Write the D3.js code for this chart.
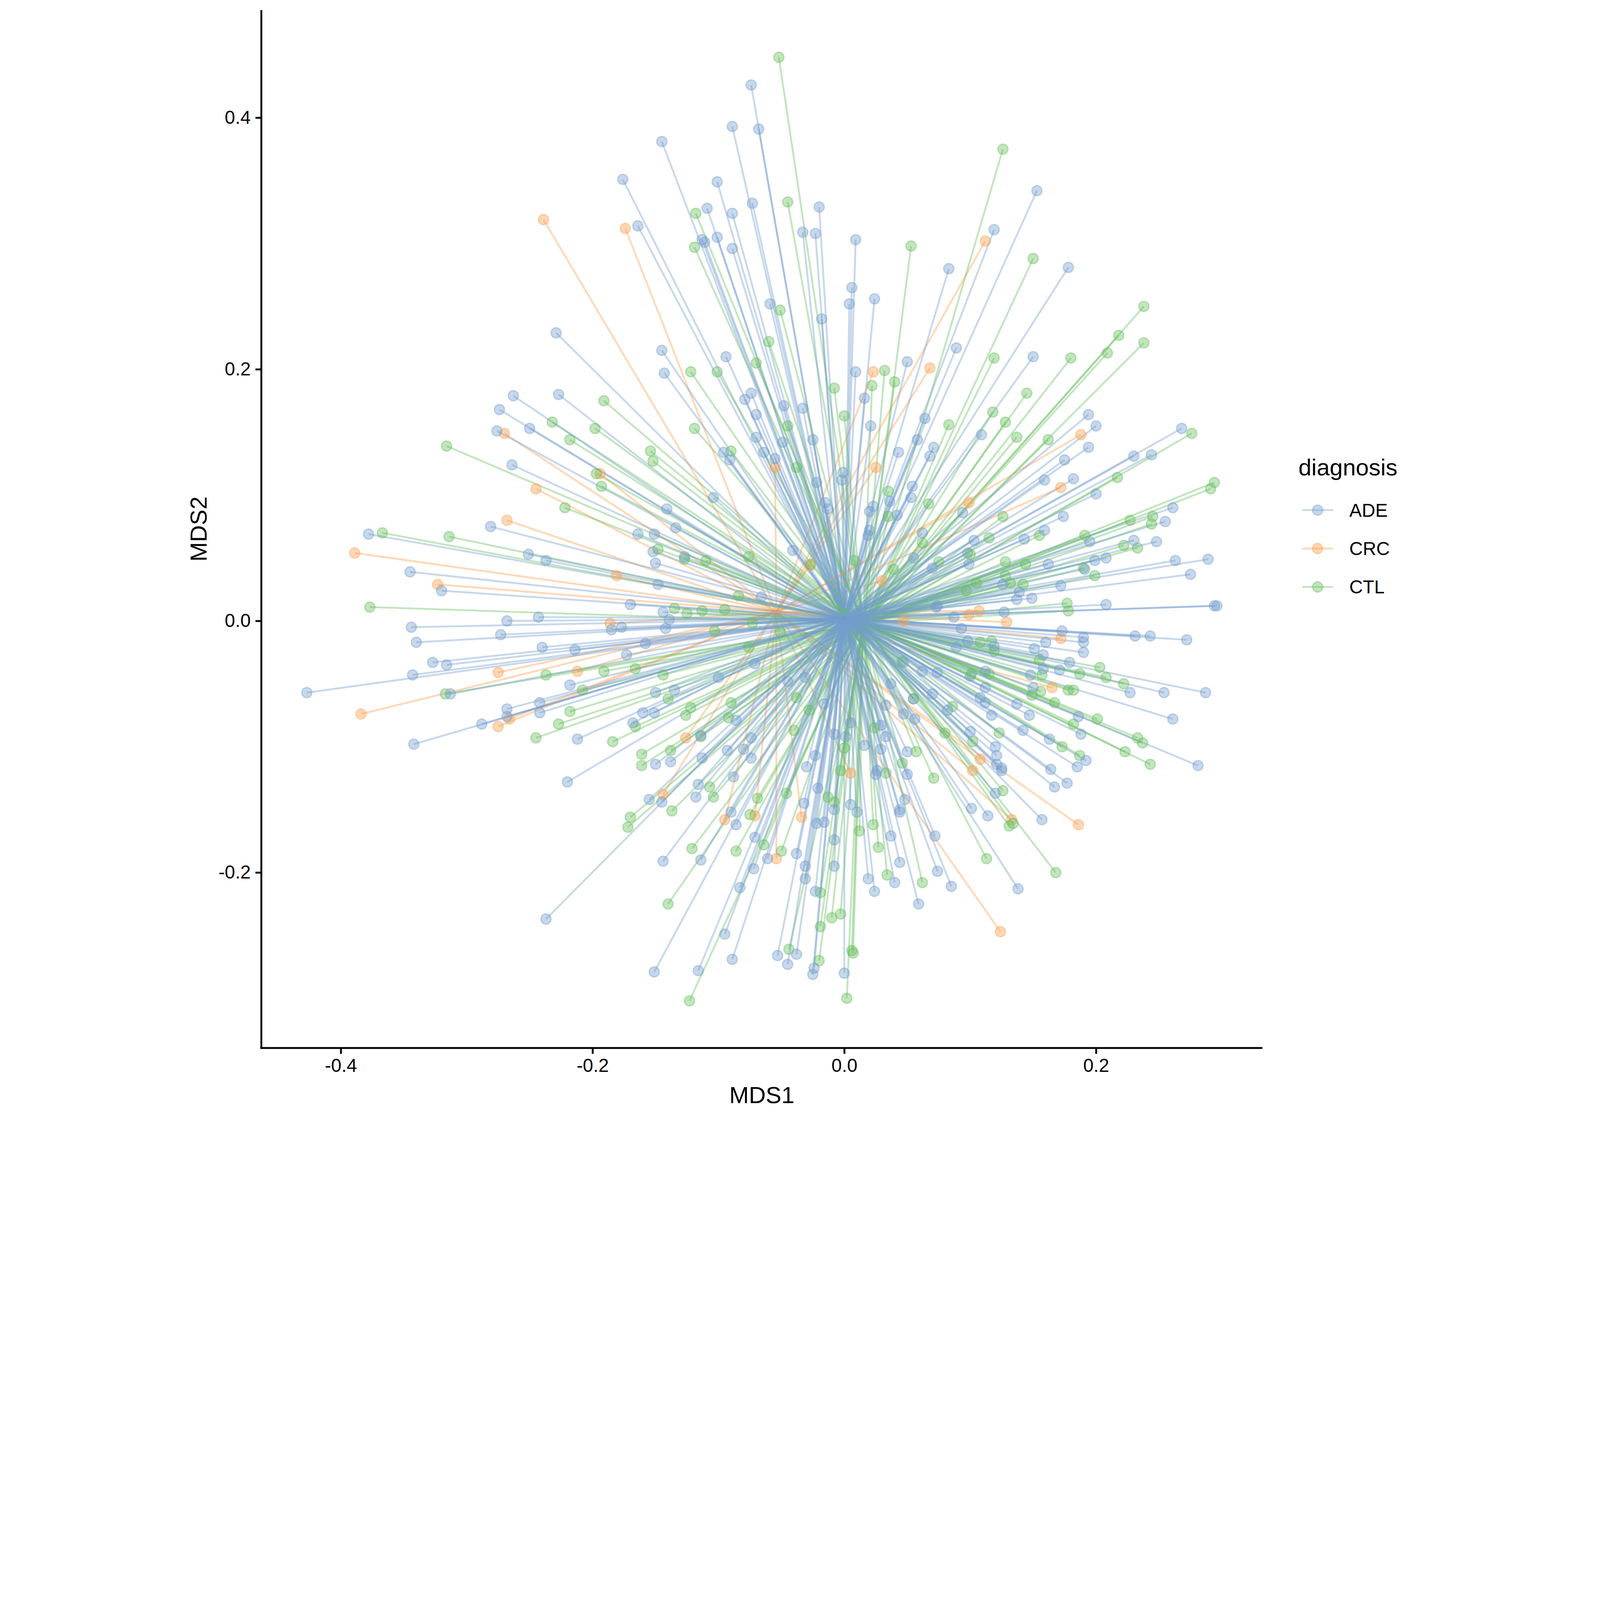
<!DOCTYPE html>
<html>
<head>
<meta charset="utf-8">
<script src="https://cdn.jsdelivr.net/npm/d3@7"></script>
<style>
  html, body { margin: 0; padding: 0; background: #fff; width: 100%; height: 100%; overflow: hidden; }
  svg { display: block; }
  text { font-family: "Liberation Sans", Arial, Helvetica, sans-serif; }
</style>
</head>
<body>
<svg id="chart" viewBox="0 0 6000 4200" preserveAspectRatio="xMidYMin meet"></svg>
<script>
// groups and their colours
const categories = ["ADE", "CRC", "CTL"];
const palette = ["#729ECE", "#FF9E4A", "#67BF5C"];

// group centroids (MDS1, MDS2)
const centroidADE = [0.000, 0.002];
const centroidCRC = [-0.054, 0.007];
const centroidCTL = [0.015, -0.002];

// sample coordinates (MDS1, MDS2)
const adePoints = [
  [-0.074,0.426],[-0.089,0.393],[-0.068,0.391],[-0.145,0.381],[-0.176,0.351],[-0.101,0.349],[-0.073,0.332],[-0.020,0.329],
  [-0.109,0.328],[-0.089,0.324],[-0.164,0.314],[-0.033,0.309],[-0.023,0.308],[0.009,0.303],[-0.101,0.305],[-0.113,0.303],
  [-0.111,0.301],[-0.089,0.296],[0.083,0.280],[0.006,0.265],[0.004,0.252],[0.024,0.256],[-0.059,0.252],[-0.018,0.240],
  [0.089,0.217],[-0.145,0.215],[-0.094,0.210],[0.050,0.206],[0.009,0.198],[-0.143,0.197],
  [0.153,0.342],[0.119,0.311],[0.178,0.281],[0.150,0.210],[-0.229,0.229],
  [-0.074,0.181],[-0.079,0.176],[0.016,0.177],[-0.048,0.171],[-0.033,0.169],[-0.070,0.164],[0.064,0.161],[0.021,0.155],
  [-0.070,0.146],[-0.025,0.144],[-0.049,0.142],[0.058,0.144],[0.071,0.138],[-0.096,0.134],[-0.064,0.134],[0.043,0.134],
  [0.068,0.131],[-0.091,0.128],[-0.055,0.129],[-0.001,0.118],[-0.002,0.112],[-0.022,0.110],[0.054,0.107],[0.036,0.095],
  [0.053,0.098],[-0.104,0.098],[-0.015,0.094],[-0.013,0.089],[0.023,0.091],[0.020,0.087],[0.042,0.084],[-0.141,0.089],
  [-0.134,0.074],[-0.164,0.069],[-0.151,0.069],[0.020,0.072],[0.019,0.068],[0.062,0.070],[-0.152,0.055],[-0.041,0.056],
  [-0.127,0.051],[-0.150,0.046],[0.055,0.050],[0.070,0.042],[-0.148,0.029],[-0.066,0.019],[-0.170,0.013],[-0.144,0.007],
  [-0.139,0.001],[-0.177,-0.005],[-0.185,-0.007],[-0.142,-0.006],[0.073,0.011],[-0.158,-0.018],[-0.173,-0.027],[-0.071,-0.034],
  [-0.100,-0.045],[0.047,-0.033],[0.062,-0.040],[0.100,-0.044],[-0.045,-0.048],[-0.031,-0.045],[0.037,-0.050],[-0.150,-0.057],
  [-0.135,-0.055],[0.055,-0.062],[0.070,-0.058],[0.033,-0.067],[-0.160,-0.073],[-0.151,-0.073],[-0.016,-0.066],[0.098,0.054],
  [-0.263,0.179],[-0.227,0.180],[-0.274,0.168],[-0.276,0.151],[-0.250,0.153],[-0.264,0.124],[-0.281,0.075],[-0.378,0.069],
  [-0.251,0.053],[-0.237,0.048],[-0.345,0.039],[-0.320,0.024],[-0.268,0.000],[-0.243,0.003],[-0.344,-0.005],[-0.273,-0.011],
  [-0.340,-0.017],[-0.240,-0.021],[-0.214,-0.023],[-0.327,-0.033],[-0.316,-0.035],[-0.343,-0.043],[-0.427,-0.057],[-0.313,-0.058],
  [-0.218,-0.051],[-0.268,-0.070],[-0.242,-0.065],[-0.242,-0.073],[-0.268,-0.076],[-0.342,-0.098],[-0.288,-0.082],[-0.237,-0.237],
  [-0.212,-0.094],[-0.168,-0.081],[-0.114,-0.091],[-0.086,-0.079],[-0.074,-0.093],[-0.093,-0.103],[-0.080,-0.102],[-0.150,-0.114],
  [-0.138,-0.112],[-0.113,-0.109],[-0.074,-0.109],[-0.220,-0.128],[-0.088,-0.124],[-0.030,-0.116],[-0.023,-0.107],[-0.008,-0.090],
  [0.001,-0.092],[0.016,-0.099],[0.005,-0.081],[0.025,-0.122],[0.026,-0.119],[0.029,-0.102],[0.029,-0.083],[0.033,-0.092],
  [0.050,-0.104],[0.050,-0.122],[0.047,-0.074],[0.056,-0.078],[0.100,-0.088],[0.048,-0.142],[0.044,-0.150],[0.044,-0.152],
  [0.005,-0.146],[0.010,-0.152],[-0.008,-0.150],[-0.021,-0.133],[-0.032,-0.145],[-0.022,-0.161],[-0.016,-0.160],[0.037,-0.171],
  [0.072,-0.171],[0.101,-0.149],[0.114,-0.155],[-0.008,-0.174],[0.044,-0.192],[0.074,-0.199],[0.085,-0.211],[0.040,-0.208],
  [0.019,-0.205],[0.024,-0.215],[0.059,-0.225],[-0.008,-0.195],[-0.038,-0.185],[-0.031,-0.195],[-0.031,-0.205],[-0.023,-0.215],
  [-0.061,-0.189],[-0.071,-0.172],[-0.090,-0.152],[-0.086,-0.162],[-0.114,-0.190],[-0.144,-0.191],[-0.072,-0.197],[-0.083,-0.212],
  [-0.116,-0.130],[-0.118,-0.140],[-0.155,-0.142],[-0.145,-0.144],[-0.095,-0.249],[-0.089,-0.269],[-0.151,-0.279],[-0.116,-0.278],
  [-0.053,-0.266],[-0.038,-0.265],[-0.045,-0.273],[-0.024,-0.276],[-0.025,-0.281],[0.000,-0.280],
  [0.109,0.148],[0.194,0.164],[0.200,0.155],[0.194,0.138],[0.175,0.128],[0.268,0.153],[0.230,0.131],[0.244,0.132],
  [0.159,0.112],[0.182,0.113],[0.200,0.101],[0.094,0.086],[0.174,0.083],[0.261,0.090],[0.255,0.079],[0.159,0.072],
  [0.143,0.065],[0.103,0.064],[0.195,0.063],[0.230,0.064],[0.248,0.063],[0.099,0.045],[0.162,0.045],[0.199,0.048],
  [0.208,0.050],[0.191,0.041],[0.263,0.048],[0.289,0.049],[0.275,0.037],[0.126,0.029],[0.172,0.028],[0.139,0.023],
  [0.137,0.017],[0.149,0.018],[0.208,0.013],[0.294,0.012],[0.296,0.012],[0.074,0.012],[0.127,0.007],[0.087,0.003],
  [0.093,-0.006],[0.173,-0.008],[0.190,-0.013],[0.190,-0.017],[0.231,-0.012],[0.243,-0.012],[0.272,-0.015],[0.160,-0.017],
  [0.098,-0.016],[0.119,-0.020],[0.089,-0.021],[0.151,-0.022],[0.158,-0.027],[0.190,-0.025],[0.179,-0.033],[0.158,-0.038],
  [0.171,-0.039],[0.148,-0.043],[0.227,-0.057],[0.254,-0.057],[0.287,-0.057],[0.150,-0.053],[0.137,-0.066],[0.112,-0.053],
  [0.112,-0.040],[0.074,-0.041],[0.108,-0.061],[0.112,-0.065],[0.082,-0.071],[0.117,-0.075],[0.147,-0.075],[0.186,-0.076],
  [0.261,-0.078],[0.188,-0.090],[0.281,-0.115],[0.142,-0.087],[0.163,-0.094],[0.192,-0.111],[0.185,-0.116],[0.120,-0.100],
  [0.121,-0.107],[0.121,-0.114],[0.125,-0.117],[0.125,-0.119],[0.164,-0.118],[0.177,-0.129],[0.167,-0.132],[0.120,-0.137],
  [0.157,-0.158],[0.138,-0.213]
];

const crcPoints = [
  [-0.174,0.312],[0.068,0.201],[0.023,0.198],[0.112,0.302],[-0.239,0.319],
  [-0.055,0.122],[0.025,0.122],[-0.194,0.117],[0.099,0.094],[-0.181,0.036],[0.030,0.032],[-0.186,-0.002],[0.047,0.000],
  [-0.027,0.044],
  [-0.270,0.149],[-0.245,0.105],[-0.268,0.080],[-0.389,0.054],[-0.323,0.029],[-0.275,-0.041],[-0.212,-0.040],[-0.384,-0.074],
  [-0.275,-0.084],[-0.266,-0.078],
  [-0.126,-0.093],[0.005,-0.121],[0.108,-0.110],[0.102,-0.119],[-0.034,-0.156],[-0.054,-0.189],[-0.071,-0.155],[-0.095,-0.158],
  [-0.144,-0.138],
  [0.188,0.148],[0.172,0.106],[0.107,0.008],[0.099,0.005],[0.129,-0.001],[0.172,-0.014],[0.165,-0.053],
  [0.186,-0.162],[0.133,-0.158],[0.124,-0.247]
];

const ctlPoints = [
  [-0.052,0.448],[-0.045,0.333],[-0.118,0.324],[-0.119,0.297],[0.053,0.298],[-0.051,0.247],[-0.060,0.222],[-0.070,0.205],
  [0.032,0.199],[-0.122,0.198],[-0.101,0.198],
  [0.126,0.375],[0.150,0.288],[0.238,0.250],[0.218,0.227],[0.238,0.221],[0.209,0.213],[0.180,0.209],[0.119,0.209],
  [-0.191,0.175],[-0.008,0.185],[0.000,0.163],[0.083,0.156],[-0.045,0.155],[-0.119,0.153],[-0.154,0.135],[-0.090,0.135],
  [-0.152,0.127],[-0.038,0.122],[-0.193,0.107],[0.035,0.103],[0.067,0.093],[0.035,0.083],[0.062,0.062],[-0.148,0.057],
  [-0.127,0.049],[-0.110,0.048],[-0.076,0.051],[-0.027,0.045],[0.075,0.047],[0.039,0.041],[0.008,0.048],[-0.084,0.020],
  [-0.135,0.010],[-0.125,0.006],[-0.113,0.008],[-0.095,0.009],[-0.103,-0.008],[-0.073,-0.002],[-0.076,-0.021],[-0.191,-0.040],
  [-0.166,-0.038],[-0.144,-0.043],[-0.140,-0.062],[-0.090,-0.065],[-0.038,-0.061],[0.086,-0.068],[-0.122,-0.069],[-0.126,-0.075],
  [0.040,0.190],[0.022,0.187],[-0.051,-0.009],[0.046,-0.032],[-0.028,-0.071],[0.055,-0.062],
  [-0.232,0.158],[-0.198,0.153],[-0.218,0.144],[-0.316,0.139],[-0.197,0.117],[-0.222,0.090],[-0.367,0.070],[-0.314,0.067],
  [-0.377,0.011],[-0.237,-0.043],[-0.317,-0.058],[-0.208,-0.055],[-0.218,-0.072],[-0.245,-0.093],[-0.227,-0.082],
  [-0.166,-0.084],[-0.184,-0.096],[-0.114,-0.092],[-0.092,-0.077],[-0.161,-0.106],[-0.138,-0.103],[-0.161,-0.115],[-0.040,-0.087],
  [0.000,-0.101],[-0.003,-0.119],[0.033,-0.121],[0.024,-0.085],[0.057,-0.104],[0.046,-0.113],[0.071,-0.125],[0.080,-0.089],
  [0.102,-0.096],[-0.008,-0.144],[-0.013,-0.140],[-0.046,-0.137],[-0.069,-0.141],[0.012,-0.167],[0.023,-0.162],[0.113,-0.189],
  [0.027,-0.180],[0.062,-0.208],[0.034,-0.202],[-0.019,-0.216],[-0.050,-0.183],[-0.064,-0.178],[-0.075,-0.154],[-0.086,-0.183],
  [-0.121,-0.181],[-0.107,-0.132],[-0.104,-0.140],[-0.137,-0.151],[-0.170,-0.156],[-0.172,-0.164],[-0.140,-0.225],[-0.123,-0.302],
  [-0.044,-0.261],[-0.020,-0.270],[-0.010,-0.236],[-0.003,-0.233],[-0.019,-0.243],[0.006,-0.262],[0.007,-0.264],[0.002,-0.300],
  [0.118,0.166],[0.128,0.158],[0.145,0.181],[0.137,0.146],[0.162,0.144],[0.276,0.149],[0.217,0.114],[0.294,0.110],
  [0.291,0.105],[0.126,0.083],[0.227,0.080],[0.245,0.083],[0.244,0.077],[0.155,0.068],[0.115,0.066],[0.191,0.068],
  [0.222,0.060],[0.233,0.058],[0.100,0.053],[0.128,0.047],[0.144,0.045],[0.190,0.042],[0.199,0.036],[0.128,0.036],
  [0.132,0.030],[0.105,0.030],[0.097,0.024],[0.142,0.029],[0.177,0.014],[0.178,0.008],[0.108,-0.017],[0.117,-0.016],
  [0.119,-0.024],[0.155,-0.031],[0.157,-0.043],[0.203,-0.037],[0.187,-0.042],[0.208,-0.045],[0.222,-0.050],[0.156,-0.056],
  [0.178,-0.055],[0.182,-0.055],[0.149,-0.059],[0.167,-0.065],[0.115,-0.042],[0.101,-0.042],[0.201,-0.078],
  [0.182,-0.082],[0.233,-0.093],[0.237,-0.097],[0.223,-0.104],[0.243,-0.114],[0.123,-0.089],[0.173,-0.100],[0.187,-0.107],
  [0.126,-0.135],[0.131,-0.163],[0.134,-0.161],[0.168,-0.200]
];

const xTicks = [-0.4, -0.2, 0.0, 0.2];
const yTicks = [-0.2, 0.0, 0.2, 0.4];
const xTitle = "MDS1";
const yTitle = "MDS2";
const legendTitle = "diagnosis";

// fit the 6000x4200 layout to the window width, top aligned
const winW = window.innerWidth || 6000;
const winH = window.innerHeight || 4200;
const fitW = Math.min(winW, winH * 6000 / 4200);
d3.select("#chart")
  .attr("width", winW)
  .attr("height", Math.min(winH, fitW * 4200 / 6000));

// build one table of samples, groups mixed the way ggplot draws rows
const groups = [
  { name: "ADE", pts: adePoints, c: centroidADE },
  { name: "CRC", pts: crcPoints, c: centroidCRC },
  { name: "CTL", pts: ctlPoints, c: centroidCTL }
];
const samples = [];
const maxLen = d3.max(groups, g => g.pts.length);
for (let i = 0; i < maxLen; i++) {
  groups.forEach(g => {
    if (i < g.pts.length) {
      samples.push({ group: g.name, x: g.pts[i][0], y: g.pts[i][1], cx: g.c[0], cy: g.c[1] });
    }
  });
}

const svg = d3.select("#chart");
const panel = { left: 980, right: 4734, top: 38, bottom: 3930 };

// ggplot style 5% expansion of the data range
function expand(ext) {
  const pad = (ext[1] - ext[0]) * 0.05;
  return [ext[0] - pad, ext[1] + pad];
}
const x = d3.scaleLinear()
  .domain(expand(d3.extent(samples, d => d.x)))
  .range([panel.left, panel.right]);
const y = d3.scaleLinear()
  .domain(expand(d3.extent(samples, d => d.y)))
  .range([panel.bottom, panel.top]);
const color = d3.scaleOrdinal().domain(categories).range(palette);

// spider segments from centroid to each sample
svg.append("g")
  .selectAll("line")
  .data(samples)
  .enter()
  .append("line")
  .attr("x1", d => x(d.cx))
  .attr("y1", d => y(d.cy))
  .attr("x2", d => x(d.x))
  .attr("y2", d => y(d.y))
  .attr("stroke", d => color(d.group))
  .attr("stroke-opacity", 0.4)
  .attr("stroke-width", 7);

// sample points
svg.append("g")
  .selectAll("circle")
  .data(samples)
  .enter()
  .append("circle")
  .attr("cx", d => x(d.x))
  .attr("cy", d => y(d.y))
  .attr("r", 19)
  .attr("fill", d => color(d.group))
  .attr("fill-opacity", 0.4)
  .attr("stroke", d => color(d.group))
  .attr("stroke-opacity", 0.4)
  .attr("stroke-width", 5);

// axes
const fmt = d => d3.format(".1f")(d).replace("\u2212", "-");
const xAxis = svg.append("g")
  .attr("transform", `translate(0,${panel.bottom})`)
  .call(d3.axisBottom(x).tickValues(xTicks).tickFormat(fmt).tickSize(22).tickPadding(18));
const yAxis = svg.append("g")
  .attr("transform", `translate(${panel.left},0)`)
  .call(d3.axisLeft(y).tickValues(yTicks).tickFormat(fmt).tickSize(22).tickPadding(18));

[xAxis, yAxis].forEach(a => {
  a.select(".domain").attr("stroke", "#000").attr("stroke-width", 7);
  a.selectAll(".tick line").attr("stroke", "#000").attr("stroke-width", 7);
  a.selectAll(".tick text")
    .attr("fill", "#000")
    .style("font-size", "70px")
    .style("font-family", "'Liberation Sans', Arial, sans-serif");
});
// straight axis lines without outer ticks
xAxis.select(".domain").attr("d", `M${panel.left - 3.5},0H${panel.right}`);
yAxis.select(".domain").attr("d", `M0,${panel.bottom + 3.5}V${panel.top}`);

// axis titles
svg.append("text")
  .attr("x", (panel.left + panel.right) / 2)
  .attr("y", 4137)
  .attr("text-anchor", "middle")
  .style("font-size", "88px")
  .text(xTitle);
svg.append("text")
  .attr("transform", `translate(775,${(panel.top + panel.bottom) / 2}) rotate(-90)`)
  .attr("text-anchor", "middle")
  .style("font-size", "88px")
  .text(yTitle);

// legend
const legend = svg.append("g");
legend.append("text")
  .attr("x", 4869)
  .attr("y", 1783)
  .style("font-size", "88px")
  .text(legendTitle);
const keys = legend.selectAll("g.key")
  .data(categories)
  .enter()
  .append("g")
  .attr("class", "key")
  .attr("transform", (d, i) => `translate(0,${1913 + i * 144})`);
keys.append("line")
  .attr("x1", 4883).attr("x2", 4999)
  .attr("stroke", d => color(d))
  .attr("stroke-opacity", 0.4)
  .attr("stroke-width", 7);
keys.append("circle")
  .attr("cx", 4941)
  .attr("r", 19)
  .attr("fill", d => color(d))
  .attr("fill-opacity", 0.4)
  .attr("stroke", d => color(d))
  .attr("stroke-opacity", 0.4)
  .attr("stroke-width", 5);
keys.append("text")
  .attr("x", 5060)
  .attr("dy", "0.35em")
  .style("font-size", "70px")
  .text(d => d);
</script>
</body>
</html>
